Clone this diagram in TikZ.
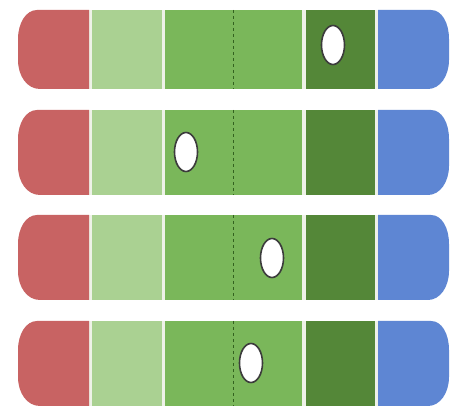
\documentclass[tikz,border=0pt]{standalone}
\usetikzlibrary{shapes.geometric}
\definecolor{cred}{HTML}{C86363}
\definecolor{clight}{HTML}{AAD192}
\definecolor{cmid}{HTML}{7AB75A}
\definecolor{cdark}{HTML}{548738}
\definecolor{cblue}{HTML}{5E86D3}
\definecolor{cdash}{HTML}{33621F}
\definecolor{coval}{HTML}{3C3C3C}
\definecolor{cgap}{HTML}{EEF2E8}
\begin{document}
\begin{tikzpicture}[x=1pt,y=-1pt,
  oval/.style={ellipse,draw=coval,line width=1.6pt,fill=white,minimum width=23pt,minimum height=39pt,inner sep=0pt},
  dashline/.style={draw=cdash,line width=1pt,dash pattern=on 3.5pt off 2.5pt}]
\useasboundingbox (0,0) rectangle (456,409);
\fill[white] (0,0) rectangle (456,409);
\foreach \t/\b/\ox/\oy/\nm in {10/89/333/45/a,110/195/186/152/b,215/300/272/258/c,321/406/251/363/d}{
  \fill[cgap] (88,\t) rectangle (379,\b);
  \fill[cred] (89,\t) -- (37,\t) .. controls (26,\t) and (18,\t+13) .. (18,\t+29) -- (18,\b-29) .. controls (18,\b-13) and (27,\b) .. (40,\b) -- (89,\b) -- cycle;
  \fill[clight] (92,\t) rectangle (162,\b);
  \fill[cmid] (165,\t) rectangle (302,\b);
  \fill[cdark] (306,\t) rectangle (375,\b);
  \fill[cblue] (378,\t) -- (431,\t) .. controls (442,\t) and (449,\t+13) .. (449,\t+29) -- (449,\b-29) .. controls (449,\b-13) and (440,\b) .. (428,\b) -- (378,\b) -- cycle;
  \draw[dashline] (233,\t) -- (233,\b);
  \node[oval] (oval\nm) at (\ox,\oy) {};
}
\end{tikzpicture}
\end{document}
